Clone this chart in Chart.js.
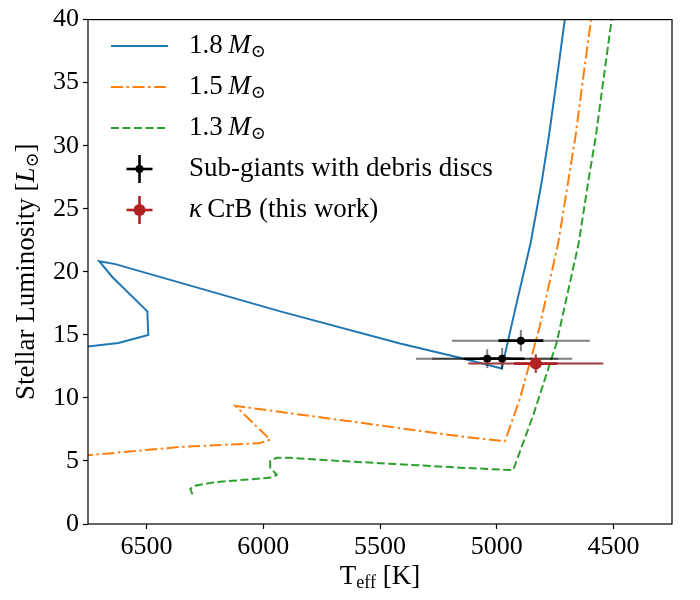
<!DOCTYPE html>
<html>
<head>
<meta charset="utf-8">
<script src="https://cdn.jsdelivr.net/npm/chart.js@4.4.1/dist/chart.umd.min.js"></script>
<style>
html, body { margin: 0; padding: 0; background: #fff; }
</style>
</head>
<body>
<canvas id="chart" width="700" height="600"></canvas>
<script>
// evolutionary tracks: Teff [K] and luminosity [Lsun]
var track18Teff = [6780, 6620, 6492, 6496, 6646, 6702, 6633, 5927, 5414, 5158, 4979, 4922, 4855, 4808, 4777, 4742, 4709, 4707];
var track18Lum  = [14.0, 14.36, 14.99, 16.86, 19.59, 20.84, 20.61, 16.86, 14.31, 13.19, 12.33, 16.96, 22.3, 27.1, 30.76, 35.44, 40.0, 40.3];

var track15Teff = [6780, 6355, 6013, 5970, 6119, 5671, 5158, 4965, 4901, 4816, 4737, 4695, 4663, 4630, 4597, 4595];
var track15Lum  = [5.4, 6.11, 6.42, 6.69, 9.37, 8.25, 6.95, 6.56, 9.94, 15.67, 22.3, 27.1, 30.76, 35.44, 39.9, 40.3];

var track13Teff = [6303, 6312, 6291, 6213, 5963, 5942, 5970, 5970, 5942, 5885, 5671, 5158, 4930, 4844, 4744, 4649, 4609, 4576, 4542, 4509, 4507];
var track13Lum  = [2.34, 2.79, 3.04, 3.30, 3.69, 3.90, 4.47, 5.0, 5.25, 5.25, 5.0, 4.47, 4.27, 8.64, 14.36, 22.3, 27.1, 30.76, 35.44, 39.9, 40.3];

// sub-giants with debris discs
var sgTeff = [4897, 5041, 4977];
var sgLum = [14.54, 13.11, 13.11];
var sgTeffErrSys = [295, 305, 300];
var sgTeffErr = [96, 100, 96];
var sgLumErr = [0.84, 0.75, 0.85];

// kappa CrB
var kcrbTeff = [4833];
var kcrbLum = [12.72];
var kcrbTeffErrSys = [289];
var kcrbTeffErr = [93];
var kcrbLumErr = [0.74];

var xTicks = [6500, 6000, 5500, 5000, 4500];
var yTicks = [0, 5, 10, 15, 20, 25, 30, 35, 40];

var serif = '"Liberation Serif", "DejaVu Serif", serif';
var sun = '\u2299';

function pts(xs, ys) {
    return xs.map(function(x, i) { return {x: x, y: ys[i]}; });
}

function seg(ctx, x1, y1, x2, y2) {
    ctx.beginPath();
    ctx.moveTo(x1, y1);
    ctx.lineTo(x2, y2);
    ctx.stroke();
}

// draw a run of text pieces (normal / italic / subscript)
function drawParts(ctx, parts, x, y, align) {
    var total = 0;
    parts.forEach(function(p) {
        ctx.font = p.font;
        p.w = ctx.measureText(p.t).width;
        total += p.w;
    });
    var cx = align === 'left' ? x : x - total / 2;
    ctx.textAlign = 'left';
    ctx.textBaseline = 'middle';
    ctx.fillStyle = '#000';
    parts.forEach(function(p) {
        ctx.font = p.font;
        ctx.fillText(p.t, cx, y + (p.dy || 0));
        cx += p.w;
    });
}

function massLabel(m) {
    return [
        {t: m + '\u2009', font: '27px ' + serif},
        {t: 'M', font: 'italic 27px ' + serif},
        {t: sun, font: '18px ' + serif, dy: 6}
    ];
}

var errorBars = {
    id: 'errorBars',
    beforeDatasetDraw: function(chart, args) {
        var ds = chart.data.datasets[args.index];
        if (!ds.err) return;
        var xs = chart.scales.x, ys = chart.scales.y, ctx = chart.ctx;
        ctx.save();
        ds.data.forEach(function(p, i) {
            var px = xs.getPixelForValue(p.x), py = ys.getPixelForValue(p.y);
            ctx.strokeStyle = ds.err.outer;
            ctx.lineWidth = 2;
            seg(ctx, xs.getPixelForValue(p.x + ds.err.xSys[i]), py, xs.getPixelForValue(p.x - ds.err.xSys[i]), py);
            seg(ctx, px, ys.getPixelForValue(p.y - ds.err.y[i]), px, ys.getPixelForValue(p.y + ds.err.y[i]));
            ctx.strokeStyle = ds.err.inner;
            ctx.lineWidth = 2.6;
            seg(ctx, xs.getPixelForValue(p.x + ds.err.x[i]), py, xs.getPixelForValue(p.x - ds.err.x[i]), py);
        });
        ctx.restore();
    }
};

var frameAndText = {
    id: 'frameAndText',
    afterDraw: function(chart) {
        var ctx = chart.ctx, a = chart.chartArea;
        ctx.save();
        ctx.strokeStyle = '#000';
        ctx.lineWidth = 1.2;
        ctx.strokeRect(a.left, a.top, a.right - a.left, a.bottom - a.top);

        // axis titles
        drawParts(ctx, [
            {t: 'T', font: '27px ' + serif},
            {t: 'eff', font: '18px ' + serif, dy: 6},
            {t: ' [K]', font: '27px ' + serif}
        ], (a.left + a.right) / 2, 577);

        ctx.save();
        ctx.translate(27, (a.top + a.bottom) / 2);
        ctx.rotate(-Math.PI / 2);
        drawParts(ctx, [
            {t: 'Stellar Luminosity [', font: '27px ' + serif},
            {t: 'L', font: 'italic 27px ' + serif},
            {t: sun, font: '18px ' + serif, dy: 6},
            {t: ']', font: '27px ' + serif}
        ], 0, 0);
        ctx.restore();

        // legend
        var lx0 = 111, lx1 = 168, tx = 189;
        var rows = [46, 87, 128, 169, 210];
        var tracks = chart.data.datasets.slice(2);
        tracks.forEach(function(ds, i) {
            ctx.strokeStyle = ds.borderColor;
            ctx.lineWidth = 2;
            ctx.setLineDash(ds.borderDash || []);
            seg(ctx, lx0, rows[i], lx1, rows[i]);
            ctx.setLineDash([]);
            drawParts(ctx, massLabel(ds.label), tx, rows[i], 'left');
        });
        var marks = [
            {c: '#000', r: 4, text: [{t: 'Sub-giants with debris discs', font: '27px ' + serif}]},
            {c: '#b22222', r: 6, text: [
                {t: '\u03ba', font: 'italic 27px ' + serif},
                {t: '\u2009CrB (this work)', font: '27px ' + serif}
            ]}
        ];
        marks.forEach(function(m, i) {
            var y = rows[3 + i], cx = (lx0 + lx1) / 2;
            ctx.strokeStyle = m.c;
            ctx.lineWidth = 2.6;
            seg(ctx, cx - 13, y, cx + 13, y);
            seg(ctx, cx, y - 14, cx, y + 14);
            ctx.fillStyle = m.c;
            ctx.beginPath();
            ctx.arc(cx, y, m.r, 0, Math.PI * 2);
            ctx.fill();
            drawParts(ctx, m.text, tx, y, 'left');
        });
        ctx.restore();
    }
};

var ctx = document.getElementById('chart').getContext('2d');
var chart = new Chart(ctx, {
    type: 'scatter',
    data: {
        datasets: [{
            label: '\u03ba CrB (this work)',
            data: pts(kcrbTeff, kcrbLum),
            pointRadius: 6,
            pointBackgroundColor: '#b22222',
            pointBorderWidth: 0,
            err: {xSys: kcrbTeffErrSys, x: kcrbTeffErr, y: kcrbLumErr, outer: '#a03a3c', inner: '#b22222'}
        }, {
            label: 'Sub-giants with debris discs',
            data: pts(sgTeff, sgLum),
            pointRadius: 4,
            pointBackgroundColor: '#000',
            pointBorderWidth: 0,
            err: {xSys: sgTeffErrSys, x: sgTeffErr, y: sgLumErr, outer: 'rgba(0,0,0,0.5)', inner: '#000'}
        }, {
            label: '1.8',
            data: pts(track18Teff, track18Lum),
            showLine: true,
            borderColor: '#1f77b4',
            borderWidth: 2,
            pointRadius: 0,
            tension: 0
        }, {
            label: '1.5',
            data: pts(track15Teff, track15Lum),
            showLine: true,
            borderColor: '#ff7f0e',
            borderWidth: 2,
            borderDash: [12, 3.5, 2.5, 3.5],
            pointRadius: 0,
            tension: 0
        }, {
            label: '1.3',
            data: pts(track13Teff, track13Lum),
            showLine: true,
            borderColor: '#2ca02c',
            borderWidth: 2,
            borderDash: [8, 3.5],
            pointRadius: 0,
            tension: 0
        }]
    },
    options: {
        responsive: false,
        animation: false,
        devicePixelRatio: 1,
        layout: { padding: { left: 0, right: 28, top: 11, bottom: 0 } },
        plugins: {
            legend: { display: false },
            tooltip: { enabled: false }
        },
        scales: {
            x: {
                type: 'linear',
                reverse: true,
                min: 4250,
                max: 6750,
                afterFit: function(s) { s.height = 76; },
                afterBuildTicks: function(s) { s.ticks = xTicks.map(function(v) { return {value: v}; }); },
                grid: { display: true, drawOnChartArea: false, drawTicks: true, tickLength: 5, color: '#000', tickWidth: 1.2 },
                border: { display: false },
                ticks: {
                    font: { family: serif, size: 26 },
                    color: '#000',
                    padding: 3,
                    maxRotation: 0,
                    callback: function(v) { return String(v); }
                }
            },
            y: {
                type: 'linear',
                min: 0,
                max: 40,
                afterFit: function(s) { s.width = 88; },
                afterBuildTicks: function(s) { s.ticks = yTicks.map(function(v) { return {value: v}; }); },
                grid: { display: true, drawOnChartArea: false, drawTicks: true, tickLength: 5, color: '#000', tickWidth: 1.2 },
                border: { display: false },
                ticks: {
                    font: { family: serif, size: 26 },
                    color: '#000',
                    padding: 4,
                    callback: function(v) { return String(v); }
                }
            }
        }
    },
    plugins: [errorBars, frameAndText]
});
</script>
</body>
</html>
